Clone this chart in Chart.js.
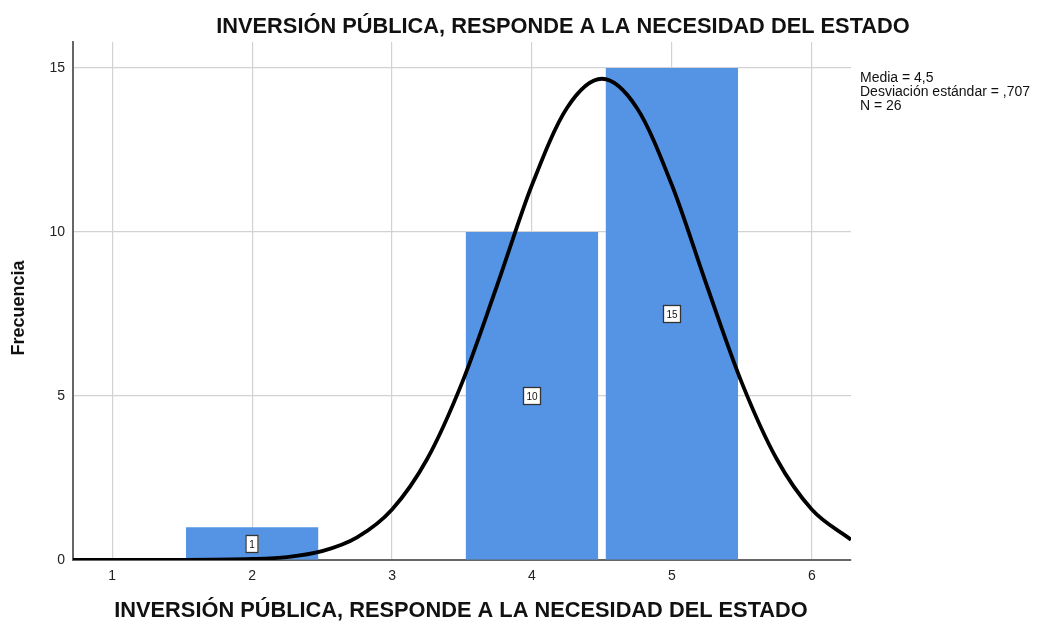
<!DOCTYPE html>
<html>
<head>
<meta charset="utf-8">
<script src="https://cdn.jsdelivr.net/npm/chart.js@4"></script>
<style>
  html, body { margin: 0; padding: 0; background: #fff; }
  #wrap { width: 1041px; height: 622px; position: relative; }
</style>
</head>
<body>
<div id="wrap"><canvas id="histo" width="1041" height="622"></canvas></div>
<script>
/* ===== DATOS ===== */
const titulo = "INVERSIÓN PÚBLICA, RESPONDE A LA NECESIDAD DEL ESTADO";
const ejeY = "Frecuencia";
const categorias = [2, 4, 5];
const frecuencias = [1, 10, 15];
const xTicks = [1, 2, 3, 4, 5, 6];
const yTicks = [0, 5, 10, 15];
const estadisticas = ["Media = 4,5", "Desviación estándar = ,707", "N = 26"];

// curva normal
const curvaX = [0.72, 1, 1.5, 2, 2.25, 2.5, 2.75, 3, 3.25, 3.5, 3.75, 4, 4.25, 4.5, 4.75, 5, 5.25, 5.5, 5.75, 6, 6.28];
const curvaY = [0, 0, 0.002, 0.03, 0.09, 0.27, 0.69, 1.54, 3.07, 5.4, 8.36, 11.43, 13.78, 14.67, 13.78, 11.43, 8.36, 5.4, 3.07, 1.54, 0.62];

const FONT = "Arial, 'Liberation Sans', sans-serif";

/* === textos y etiquetas === */
const textosPlugin = {
  id: 'textos',
  afterDatasetsDraw(chart){
    const ctx = chart.ctx;
    const xs = chart.scales.x, ys = chart.scales.y;
    ctx.save();
    // etiquetas en las barras
    ctx.font = "10px " + FONT;
    ctx.textAlign = "center";
    ctx.textBaseline = "middle";
    categorias.forEach((c, i) => {
      const px = Math.round(xs.getPixelForValue(c));
      const py = Math.round(ys.getPixelForValue(frecuencias[i] / 2));
      const txt = String(frecuencias[i]);
      const w = Math.round(ctx.measureText(txt).width) + 7;
      const h = 18;
      ctx.fillStyle = "#fff";
      ctx.fillRect(px - w/2, py - h/2, w, h);
      ctx.strokeStyle = "#333";
      ctx.lineWidth = 1.3;
      ctx.strokeRect(px - w/2 + 0.5, py - h/2 + 0.5, w - 1, h - 1);
      ctx.fillStyle = "#111";
      ctx.fillText(txt, px, py + 1);
    });

    // título
    ctx.fillStyle = "#111";
    ctx.font = "bold 21.8px " + FONT;
    ctx.fillText(titulo, 563, 27);
    // título eje x
    ctx.fillText(titulo, 461, 611);
    // título eje y
    ctx.font = "bold 18px " + FONT;
    ctx.save();
    ctx.translate(19, 308);
    ctx.rotate(-Math.PI / 2);
    ctx.fillText(ejeY, 0, 0);
    ctx.restore();

    // estadísticas
    ctx.font = "14px " + FONT;
    ctx.textAlign = "left";
    ctx.textBaseline = "alphabetic";
    estadisticas.forEach((t, i) => ctx.fillText(t, 860, 82 + i * 13.8));
    ctx.restore();
  }
};

const ctx = document.getElementById("histo").getContext("2d");

new Chart(ctx, {
  data: {
    datasets: [
      {
        type: 'line',
        data: curvaX.map((x, i) => ({ x: x, y: curvaY[i] })),
        borderColor: '#000',
        borderWidth: 3.8,
        pointRadius: 0,
        fill: false,
        cubicInterpolationMode: 'monotone',
        order: 1
      },
      {
        type: 'bar',
        data: categorias.map((c, i) => ({ x: c, y: frecuencias[i] })),
        backgroundColor: '#5594e4',
        borderWidth: 0,
        barPercentage: 0.945,
        categoryPercentage: 1,
        order: 2
      }
    ]
  },
  options: {
    responsive: false,
    animation: false,
    events: [],
    layout: { padding: { left: 0, top: 42, right: 190, bottom: 0 } },
    plugins: {
      legend: { display: false },
      tooltip: { enabled: false },
      title: { display: false }
    },
    scales: {
      x: {
        type: 'linear',
        min: 0.72,
        max: 6.28,
        offset: false,
        afterBuildTicks: s => { s.ticks = xTicks.map(v => ({ value: v })); },
        afterFit: s => { s.height = 62; },
        ticks: {
          color: '#222',
          font: { size: 14, family: FONT },
          padding: 8,
          maxRotation: 0
        },
        grid: { color: '#d2d2d2', lineWidth: 1.2, drawTicks: false, offset: false },
        border: { display: true, color: '#666', width: 2 }
      },
      y: {
        min: 0,
        max: 15.79,
        afterBuildTicks: s => { s.ticks = yTicks.map(v => ({ value: v })); },
        afterFit: s => { s.width = 73; },
        ticks: {
          color: '#222',
          font: { size: 14, family: FONT },
          padding: 8
        },
        grid: { color: '#d2d2d2', lineWidth: 1.2, drawTicks: false },
        border: { display: true, color: '#666', width: 2 }
      }
    }
  },
  plugins: [textosPlugin]
});
</script>
</body>
</html>
